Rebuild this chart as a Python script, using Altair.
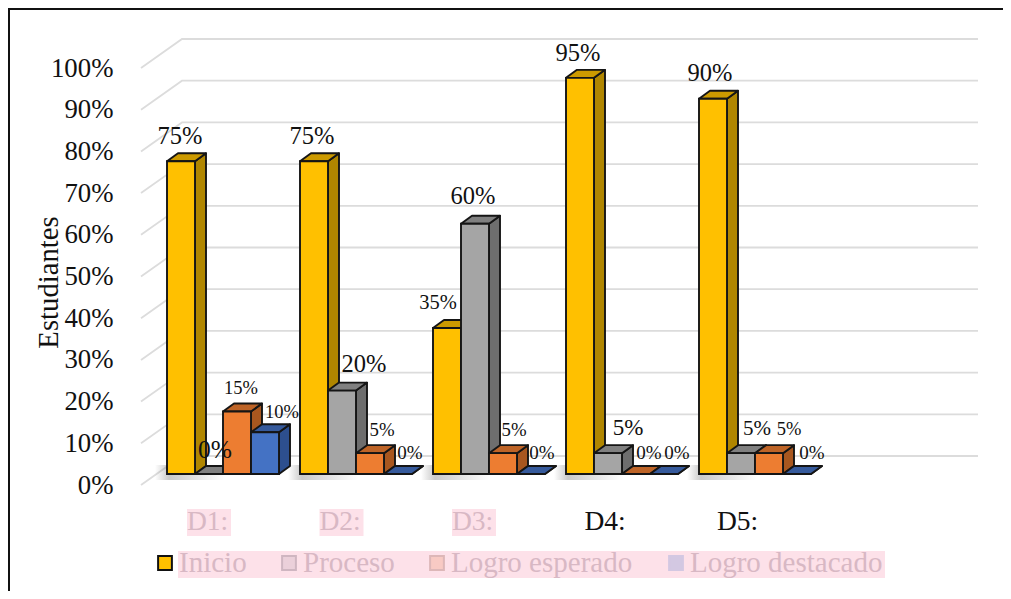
import altair as alt
import pandas as pd

# ---- values ----
categories = ["D1:", "D2:", "D3:", "D4:", "D5:"]
series = ["Inicio", "Proceso", "Logro esperado", "Logro destacado"]
inicio = [75, 75, 35, 95, 90]
proceso = [0, 20, 60, 5, 5]
esperado = [15, 5, 5, 0, 5]
destacado = [10, 0, 0, 0, 0]
ticks = list(range(0, 101, 10))

values = [inicio, proceso, esperado, destacado]

# ---- styles ----
FONT = "Liberation Serif"
EDGE = "#151515"
PINK = "#FDE1E9"
FADED = "#D8B8C4"
front_col = ["#FFC000", "#A5A5A5", "#ED7D31", "#4472C4"]
side_col = ["#B08600", "#6E6E6E", "#A8571F", "#2D4F8E"]
top_col = ["#CC9A00", "#808080", "#BE6427", "#365A9C"]
leg_fill = ["#FFC000", "#EBD0DA", "#F8CAC4", "#D3C8E2"]
leg_stroke = ["#111111", "#CFB6C1", "#DDB7B8", "#D3C8E2"]
leg_text = ["#D8B8C4", "#D8B8C4", "#D8B8C4", "#D8B8C4"]
cat_col = [FADED, FADED, FADED, "#111111", "#111111"]

# label placement relative to the top centre of each bar (pixels) and size
label_dx = [[-1, -2, -9, -2, -3], [6, 22, -2, 20, 16], [4, 12, 11, 13, 20], [17, 12, 11, 13, 15]]
label_dy = [[-24.5, -24.5, -25.5, -23.5, -24.5], [-24, -25.5, -26.5, -25.5, -24.5], [-23, -23.5, -23.5, -21.5, -24], [-20, -21.5, -21.5, -21.5, -21.5]]
label_fs = [[24.5, 24.5, 20.5, 24.5, 24.5], [25.5, 24.5, 24.5, 23, 21], [18.5, 18.8, 18.8, 19, 18.5], [18.5, 19, 19, 19, 19]]

# ---- layout: page pixels to scale units ----
STEP = 133.0     # px per category
BARW = 28.0      # px per bar
X0 = 167.0       # left edge of first bar
Y_ZERO = 485.0   # front wall 0 %
Y_HUND = 68.0    # front wall 100 %
PX_PER = (Y_ZERO - Y_HUND) / 100.0
BASE = (Y_ZERO - 474.0) / PX_PER   # bars stand on the floor, in front of the back wall
DX = 11.0 / STEP   # depth of a bar
DY = 8.0 / PX_PER
fx = lambda px: (px - X0) / STEP
fy = lambda py: (Y_ZERO - py) / PX_PER
W = 978 - 141
H = Y_ZERO - Y_HUND

xs = alt.Scale(domain=[fx(141), fx(978)], nice=False, zero=False)
ys = alt.Scale(domain=[0, 100], nice=False, zero=False)
y_axis = alt.Axis(
    values=ticks, labelExpr="datum.value + '%'", domain=False, ticks=False, grid=False,
    labelPadding=28, labelFont=FONT, labelFontSize=26.8, labelColor="#111111",
    titleFont=FONT, titleFontSize=28.7, titleFontWeight="normal", titleColor="#111111",
    titleAngle=-90, titleX=-78, titleY=214, labelOverlap=False,
)
X = lambda f: alt.X(f"{f}:Q", scale=xs, axis=None, title=None, stack=None)
Y = lambda f: alt.Y(f"{f}:Q", scale=ys, axis=y_axis, title="Estudiantes", stack=None)
X2 = lambda f: alt.X2(f"{f}:Q")
Y2 = lambda f: alt.Y2(f"{f}:Q")

# ---- tables built from the arrays ----
fronts, sides, tops, labels = [], [], [], []
for s, vals in enumerate(values):
    for c, v in enumerate(vals):
        left = c + s * BARW / STEP
        right = left + BARW / STEP
        y = v + BASE
        bid = f"{c}-{s}"
        fronts.append(dict(x=left, x2=right, y=BASE, y2=y, fill=front_col[s]))
        sides += [
            dict(bar=bid, x=right, y=BASE, y2=y, fill=side_col[s]),
            dict(bar=bid, x=right + DX, y=BASE + DY, y2=y + DY, fill=side_col[s]),
        ]
        tops += [
            dict(bar=bid, y=y, x=left, x2=right, fill=top_col[s]),
            dict(bar=bid, y=y + DY, x=left + DX, x2=right + DX, fill=top_col[s]),
        ]
        labels.append(dict(
            x=(left + right) / 2 + label_dx[s][c] / STEP,
            y=y - label_dy[s][c] / PX_PER,
            text=f"{v}%", fs=label_fs[s][c],
        ))

grid = []
for t in ticks:
    grid += [
        dict(tick=t, o=0, x=fx(141), y=t),
        dict(tick=t, o=1, x=fx(182), y=t + 29 / PX_PER),
        dict(tick=t, o=2, x=fx(978), y=t + 29 / PX_PER),
    ]

cats = pd.DataFrame([
    dict(x=fx(207.5 + 132.5 * i), y=fy(522), text=c, col=cat_col[i],
         xa=fx(209 + 132.5 * i - 22), xb=fx(209 + 132.5 * i + 22),
         ya=fy(536), yb=fy(509))
    for i, c in enumerate(categories)
])

leg_sym_px = [165, 289, 437, 676]
leg_txt_px = [179, 303, 451, 690]
leg = pd.DataFrame([
    dict(xs=fx(leg_sym_px[i]), xt=fx(leg_txt_px[i]), y=fy(563), text=series[i],
         fill=leg_fill[i], stroke=leg_stroke[i], col=leg_text[i])
    for i in range(4)
])
band = pd.DataFrame([dict(x=fx(178), x2=fx(885), y=fy(578), y2=fy(551))])
shadow = pd.DataFrame([
    dict(x=fx(155 + STEP * i), x2=fx(225 + STEP * i), y=fy(480), y2=fy(465))
    for i in range(5)
])

# ---- layers ----
axis_layer = alt.Chart(pd.DataFrame(grid)).mark_line(color="#DCDCDC", strokeWidth=1.8).encode(
    x=X("x"), y=Y("y"), detail="tick:N", order="o:Q",
)

shadow_layer = alt.Chart(shadow).mark_rect(fill=alt.LinearGradient(
    gradient="linear", x1=0, x2=1, y1=0, y2=0,
    stops=[
        alt.GradientStop(color="rgba(120,120,120,0)", offset=0),
        alt.GradientStop(color="rgba(120,120,120,0.4)", offset=0.2),
        alt.GradientStop(color="rgba(120,120,120,0)", offset=1),
    ],
)).encode(x=X("x"), x2=X2("x2"), y=Y("y"), y2=Y2("y2"))

side_layer = alt.Chart(pd.DataFrame(sides)).mark_area(stroke=EDGE, strokeWidth=1.9, strokeJoin="round").encode(
    x=X("x"), y=Y("y"), y2=Y2("y2"), detail="bar:N", fill=alt.Fill("fill:N", scale=None),
)
top_layer = alt.Chart(pd.DataFrame(tops)).mark_area(orient="horizontal", stroke=EDGE, strokeWidth=1.9, strokeJoin="round").encode(
    y=Y("y"), x=X("x"), x2=X2("x2"), detail="bar:N", fill=alt.Fill("fill:N", scale=None),
)
front_layer = alt.Chart(pd.DataFrame(fronts)).mark_rect(stroke=EDGE, strokeWidth=1.9).encode(
    x=X("x"), x2=X2("x2"), y=Y("y"), y2=Y2("y2"), fill=alt.Fill("fill:N", scale=None),
)
label_layer = alt.Chart(pd.DataFrame(labels)).mark_text(font=FONT, color="#111111", baseline="middle").encode(
    x=X("x"), y=Y("y"), text="text:N", size=alt.Size("fs:Q", scale=None),
)

cat_band = alt.Chart(cats[cats["col"] == FADED]).mark_rect(fill=PINK).encode(
    x=X("xa"), x2=X2("xb"), y=Y("ya"), y2=Y2("yb"),
)
cat_text = alt.Chart(cats).mark_text(font=FONT, fontSize=27.5, baseline="middle").encode(
    x=X("x"), y=Y("y"), text="text:N", color=alt.Color("col:N", scale=None),
)

leg_band = alt.Chart(band).mark_rect(fill=PINK).encode(
    x=X("x"), x2=X2("x2"), y=Y("y"), y2=Y2("y2"),
)
leg_sym = alt.Chart(leg).mark_point(shape="square", size=190, filled=True, strokeWidth=2, opacity=1).encode(
    x=X("xs"), y=Y("y"),
    fill=alt.Fill("fill:N", scale=None),
    stroke=alt.Stroke("stroke:N", scale=None),
)
leg_txt = alt.Chart(leg).mark_text(font=FONT, fontSize=29, baseline="middle", align="left").encode(
    x=X("xt"), y=Y("y"), text="text:N", color=alt.Color("col:N", scale=None),
)

# frame of the picture: left and top edges only
frame_left = alt.Chart(pd.DataFrame({"k": [0]})).mark_rule(color="#111111", strokeWidth=2).encode(
    x=alt.value(-132), y=alt.value(-60), y2=alt.value(523),
)
frame_top = alt.Chart(pd.DataFrame({"k": [0]})).mark_rule(color="#111111", strokeWidth=2).encode(
    x=alt.value(-133), x2=alt.value(862), y=alt.value(-59),
)

chart = alt.layer(
    axis_layer, shadow_layer, side_layer, top_layer, front_layer, label_layer,
    cat_band, cat_text, leg_band, leg_sym, leg_txt, frame_left, frame_top,
).properties(
    width=W, height=H,
    padding={"left": 133, "top": 60, "right": 25, "bottom": 106},
    autosize=alt.AutoSizeParams(type="none"),
    background="#FFFFFF",
).configure_view(stroke=None)

chart.save("out.html", embed_options={"renderer": "svg", "actions": False})
